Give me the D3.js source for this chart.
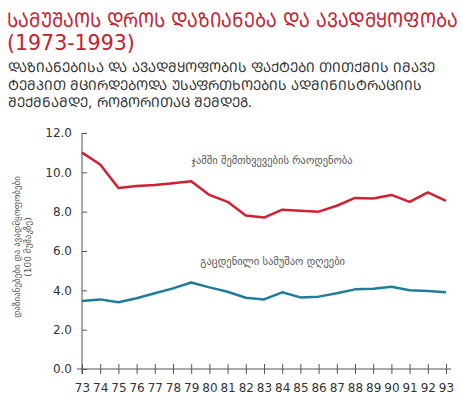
<!DOCTYPE html>
<html>
<head>
<meta charset="utf-8">
<script src="https://cdn.jsdelivr.net/npm/d3@7"></script>
<style>
  body { margin: 0; background: #fff; font-family: "DejaVu Sans", sans-serif; }
  .axis path, .axis line { stroke: #555; }
  .axis text { fill: #333; font-size: 12px; font-family: "DejaVu Sans", sans-serif; }
</style>
</head>
<body>
<svg id="chart" width="463" height="399"></svg>
<script>
const years = [73, 74, 75, 76, 77, 78, 79, 80, 81, 82, 83, 84, 85, 86, 87, 88, 89, 90, 91, 92, 93];
// total number of cases
const totalCases = [11.0, 10.4, 9.2, 9.3, 9.35, 9.45, 9.55, 8.85, 8.5, 7.8, 7.7, 8.1, 8.05, 8.0, 8.3, 8.7, 8.67, 8.85, 8.5, 8.98, 8.55];
// lost work days
const lostDays = [3.46, 3.54, 3.39, 3.6, 3.85, 4.1, 4.4, 4.15, 3.93, 3.62, 3.54, 3.9, 3.64, 3.68, 3.85, 4.05, 4.08, 4.18, 4.0, 3.96, 3.9];
const yTicks = [0, 2, 4, 6, 8, 10, 12];

const titleLines = ['ᲡᲐᲛᲣᲨᲐᲝᲡ ᲓᲠᲝᲡ ᲓᲐᲖᲘᲐᲜᲔᲑᲐ ᲓᲐ ᲐᲕᲐᲓᲛᲧᲝᲤᲝᲑᲐ', '(1973-1993)'];
const bodyLines = [
  'ᲓᲐᲖᲘᲐᲜᲔᲑᲘᲡᲐ ᲓᲐ ᲐᲕᲐᲓᲛᲧᲝᲤᲝᲑᲘᲡ ᲤᲐᲥᲢᲔᲑᲘ ᲗᲘᲗᲥᲛᲘᲡ ᲘᲛᲐᲕᲔ',
  'ᲢᲔᲛᲞᲘᲗ ᲛᲪᲘᲠᲓᲔᲑᲝᲓᲐ ᲣᲡᲐᲤᲠᲗᲮᲝᲔᲑᲘᲡ ᲐᲓᲛᲘᲜᲘᲡᲢᲠᲐᲪᲘᲘᲡ',
  'ᲨᲔᲥᲛᲜᲐᲛᲓᲔ, ᲠᲝᲒᲝᲠᲘᲗᲐᲪ ᲨᲔᲛᲓᲔᲒ.'
];
const yLabelLines = ['დაზიანებები და ავადმყოფობები', '(100 მუშაკზე)'];
const seriesLabels = ['ჯამში შემთხვევების რაოდენობა', 'გაცდენილი სამუშაო დღეები'];

const svg = d3.select('#chart');

const x = d3.scaleLinear().domain([73, 93]).range([82, 446]);
const y = d3.scaleLinear().domain([0, 12]).range([369, 133]);

// title
const titleText = svg.append('g')
  .selectAll('text')
  .data(titleLines)
  .join('text')
    .attr('x', 0)
    .attr('fill', '#c8202f')
    .attr('font-size', 20.5)
    .text(d => d);

// the georgian capitals are wider in DejaVu than in the original font,
// so squeeze the first line horizontally to fit
titleText.each(function(d, i) {
  const w = this.getComputedTextLength();
  const sx = i === 0 ? Math.min(1, 446 / w) : 1;
  d3.select(this).attr('transform',
    'translate(7,' + (27 + i * 23) + ') scale(' + sx + ',1)');
});

svg.append('g')
  .selectAll('text')
  .data(bodyLines)
  .join('text')
    .attr('x', 8)
    .attr('y', (d, i) => 72 + i * 17.5)
    .attr('fill', '#333')
    .attr('font-size', 13.5)
    .text(d => d);

// axes
const xAxis = d3.axisBottom(x)
  .tickValues(years)
  .tickFormat(d => d)
  .tickSize(5)
  .tickPadding(9);

const gx = svg.append('g')
  .attr('class', 'axis')
  .attr('transform', 'translate(0,' + y(0) + ')')
  .call(xAxis);
gx.select('.domain').attr('d', 'M' + (x(73) - 5) + ',0H' + (x(93) + 5));
gx.selectAll('.tick line').attr('y1', -5);

const yAxis = d3.axisLeft(y)
  .tickValues(yTicks)
  .tickFormat(d3.format('.1f'))
  .tickSize(5)
  .tickPadding(5);

const gy = svg.append('g')
  .attr('class', 'axis')
  .attr('transform', 'translate(' + x(73) + ',0)')
  .call(yAxis);
gy.select('.domain').attr('d', 'M0,' + y(12) + 'V' + (y(0) + 5));
gy.selectAll('.tick line').attr('x2', 5);

// y label
svg.append('text')
  .attr('transform', 'translate(20,' + ((y(0) + y(12)) / 2 - 4) + ') rotate(-90)')
  .attr('text-anchor', 'middle')
  .attr('fill', '#555')
  .attr('font-size', 9)
  .selectAll('tspan')
  .data(yLabelLines)
  .join('tspan')
    .attr('x', 0)
    .attr('dy', (d, i) => i === 0 ? 0 : 10.5)
    .text(d => d);

// lines
const line = d3.line()
  .x((d, i) => x(years[i]))
  .y(d => y(d));

svg.append('path')
  .datum(totalCases)
  .attr('fill', 'none')
  .attr('stroke', '#d21f33')
  .attr('stroke-width', 2.5)
  .attr('stroke-linejoin', 'round')
  .attr('d', line);

svg.append('path')
  .datum(lostDays)
  .attr('fill', 'none')
  .attr('stroke', '#1f7d9c')
  .attr('stroke-width', 2.5)
  .attr('stroke-linejoin', 'round')
  .attr('d', line);

// series labels
svg.append('text')
  .attr('x', x(79.0))
  .attr('y', y(10.4))
  .attr('fill', '#555')
  .attr('font-size', 10.5)
  .text(seriesLabels[0]);

svg.append('text')
  .attr('x', x(79.5))
  .attr('y', y(5.3))
  .attr('fill', '#555')
  .attr('font-size', 10.5)
  .text(seriesLabels[1]);
</script>
</body>
</html>
